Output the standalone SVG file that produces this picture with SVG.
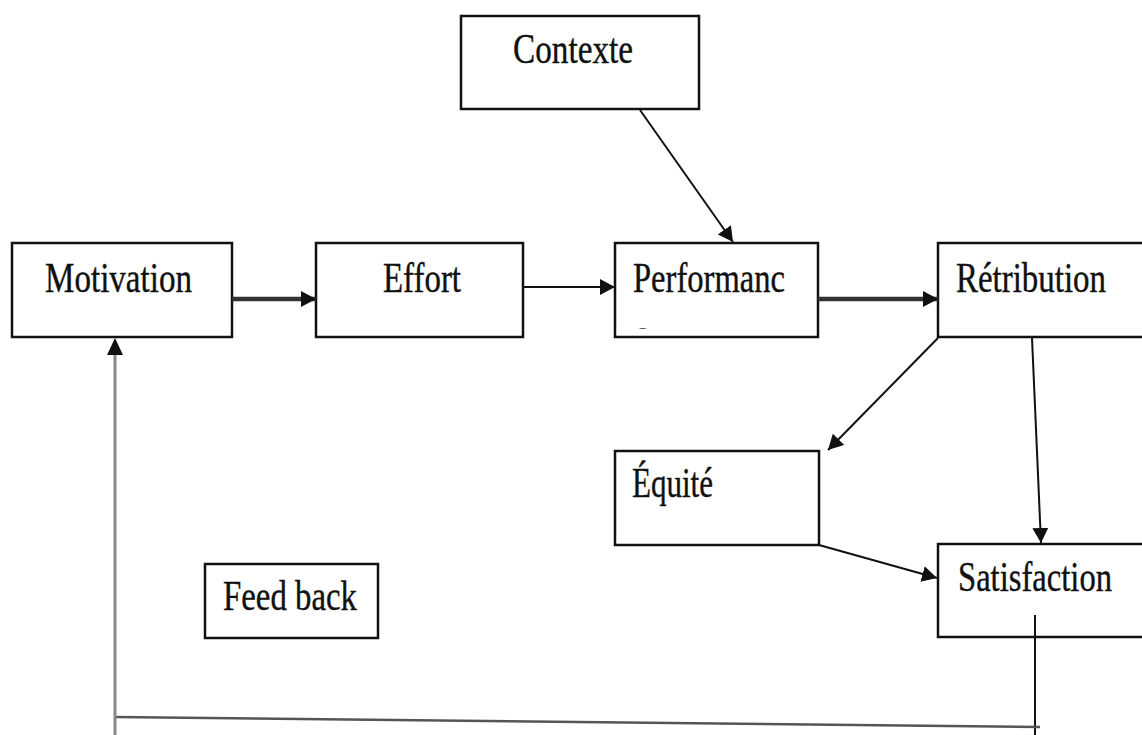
<svg xmlns="http://www.w3.org/2000/svg" width="1142" height="735" viewBox="0 0 1142 735">
  <style>
    .box { fill: #fff; stroke: #111; stroke-width: 2.5; }
    .lbl { font-family: "Liberation Serif", "Times New Roman", serif; font-size: 42px; fill: #111; stroke: #111; stroke-width: 0.4; }
    .wire { fill: none; stroke: #111; stroke-width: 2; }
    .thick { stroke: #333; stroke-width: 4.5; }
  </style>
  <defs>
    <marker id="head" viewBox="0 0 15 16" refX="15" refY="8" markerWidth="15" markerHeight="16" markerUnits="userSpaceOnUse" orient="auto">
      <path d="M0,0 L15,8 L0,16 Z" fill="#111"/>
    </marker>
    <clipPath id="perfClip">
      <rect x="615" y="243" width="203" height="86"/>
    </clipPath>
  </defs>
  <rect width="1142" height="735" fill="#fff"/>

  <g id="contexte">
    <rect class="box" x="461" y="16" width="238" height="93"/>
    <text class="lbl" x="513" y="63" textLength="120" lengthAdjust="spacingAndGlyphs">Contexte</text>
  </g>
  <g id="motivation">
    <rect class="box" x="12" y="243" width="220" height="94"/>
    <text class="lbl" x="45" y="292" textLength="147" lengthAdjust="spacingAndGlyphs">Motivation</text>
  </g>
  <g id="effort">
    <rect class="box" x="316" y="243" width="207" height="94"/>
    <text class="lbl" x="383" y="292" textLength="78" lengthAdjust="spacingAndGlyphs">Effort</text>
  </g>
  <g id="performance">
    <rect class="box" x="615" y="243" width="203" height="94"/>
    <text class="lbl" x="633" y="292" textLength="152" lengthAdjust="spacingAndGlyphs">Performanc</text>
    <text class="lbl" x="633" y="348" clip-path="url(#perfClip)">e</text>
  </g>
  <!-- the right-hand boxes run on past the page edge -->
  <g id="retribution">
    <path class="box" d="M1142,243 H938 V337 H1142"/>
    <text class="lbl" x="956" y="292" textLength="150" lengthAdjust="spacingAndGlyphs">Rétribution</text>
  </g>
  <g id="equite">
    <rect class="box" x="615" y="451" width="204" height="94"/>
    <text class="lbl" x="632" y="497" textLength="81" lengthAdjust="spacingAndGlyphs">Équité</text>
  </g>
  <g id="satisfaction">
    <path class="box" d="M1142,544 H938 V637 H1142"/>
    <text class="lbl" x="958" y="591" textLength="154" lengthAdjust="spacingAndGlyphs">Satisfaction</text>
  </g>
  <g id="feedback">
    <rect class="box" x="205" y="564" width="173" height="74"/>
    <text class="lbl" x="223" y="610" textLength="134" lengthAdjust="spacingAndGlyphs">Feed back</text>
  </g>

  <g id="connectors">
    <line class="wire thick" x1="232" y1="299" x2="316" y2="299" marker-end="url(#head)"/>
    <line class="wire" x1="523" y1="287" x2="615" y2="287" marker-end="url(#head)"/>
    <line class="wire thick" x1="818" y1="299" x2="938" y2="299" marker-end="url(#head)"/>
    <line class="wire" x1="640" y1="110" x2="733" y2="242" marker-end="url(#head)"/>
    <line class="wire" x1="938" y1="338" x2="828" y2="450" marker-end="url(#head)"/>
    <line class="wire" x1="1032" y1="338" x2="1041" y2="543" marker-end="url(#head)"/>
    <line class="wire" x1="819" y1="545" x2="937" y2="578" marker-end="url(#head)"/>
    <line class="wire" x1="1035" y1="615" x2="1035" y2="735"/>
    <line x1="115" y1="717" x2="1040" y2="727" stroke="#555" stroke-width="2.5"/>
    <line x1="115" y1="735" x2="115" y2="352" stroke="#888" stroke-width="3"/>
    <path d="M107,355 L115,338 L123,355 Z" fill="#111"/>
  </g>
</svg>
